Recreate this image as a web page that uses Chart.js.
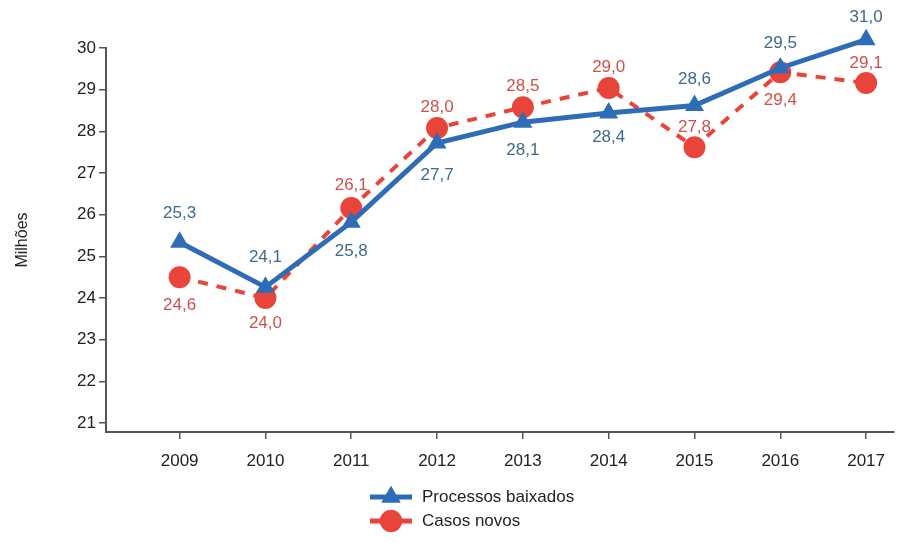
<!DOCTYPE html>
<html>
<head>
<meta charset="utf-8">
<script src="https://cdn.jsdelivr.net/npm/chart.js@4"></script>
<style>
  body{margin:0;background:#fff;}
  #wrap{width:905px;height:543px;position:relative;}
</style>
</head>
<body>
<div id="wrap"><canvas id="chart"></canvas></div>
<script>
// ======================= DATA =======================
const years=[2009,2010,2011,2012,2013,2014,2015,2016,2017];
// values as plotted in the picture (millions)
const baixados=[25.34,24.26,25.82,27.72,28.22,28.44,28.62,29.52,30.2];
const novos=[24.5,24.0,26.16,28.08,28.58,29.04,27.62,29.42,29.16];
// printed value labels
const baixadosLabels=['25,3','24,1','25,8','27,7','28,1','28,4','28,6','29,5','31,0'];
const novosLabels=['24,6','24,0','26,1','28,0','28,5','29,0','27,8','29,4','29,1'];
const yTicks=[21,22,23,24,25,26,27,28,29,30];

// label offsets (px, + is down)
const baixadosDy=[-29,-30,29,32,28,24,-26,-25,-22];
const novosDy=[28,25,-23,-21,-21,-21,-20,28,-20];

const BLUE='#2f6cb8', RED='#e9443a';
const BLUE_TXT='#3d6a8e', RED_TXT='#d0514b';
const FONT='"Liberation Sans", Arial, sans-serif';

// ======================= PLUGINS =======================
const valueLabels={
  id:'valueLabels',
  afterDatasetsDraw(chart){
    const ctx=chart.ctx;
    const sets=[[baixadosLabels,baixadosDy,BLUE_TXT],[novosLabels,novosDy,RED_TXT]];
    ctx.save();
    ctx.font='17px '+FONT;
    ctx.textAlign='center';
    ctx.textBaseline='middle';
    sets.forEach((s,di)=>{
      const meta=chart.getDatasetMeta(di);
      meta.data.forEach((p,i)=>{
        ctx.fillStyle=s[2];
        ctx.fillText(s[0][i],p.x,p.y+s[1][i]);
      });
    });
    ctx.restore();
  }
};

const bottomLegend={
  id:'bottomLegend',
  afterDraw(chart){
    const ctx=chart.ctx;
    const rows=[
      {ds:chart.data.datasets[0],y:497},
      {ds:chart.data.datasets[1],y:521}
    ];
    ctx.save();
    rows.forEach(r=>{
      ctx.strokeStyle=r.ds.borderColor;
      ctx.fillStyle=r.ds.borderColor;
      ctx.lineWidth=5;
      ctx.beginPath();ctx.moveTo(370,r.y);ctx.lineTo(412,r.y);ctx.stroke();
      Chart.helpers.drawPoint(ctx,{pointStyle:r.ds.pointStyle,radius:11,borderWidth:0},391,r.y);
      ctx.fill();
      ctx.fillStyle='#222';
      ctx.font='17px '+FONT;
      ctx.textAlign='left';
      ctx.textBaseline='middle';
      ctx.fillText(r.ds.label,422,r.y);
    });
    ctx.restore();
  }
};

// ======================= CHART =======================
const toXY=(arr)=>arr.map((v,i)=>({x:years[i],y:v}));

new Chart(document.getElementById('chart'),{
  type:'line',
  data:{
    datasets:[
      {label:'Processos baixados',data:toXY(baixados),borderColor:BLUE,backgroundColor:BLUE,
        borderWidth:5,pointStyle:'triangle',pointRadius:11,pointBorderWidth:0,clip:false,tension:0},
      {label:'Casos novos',data:toXY(novos),borderColor:RED,backgroundColor:RED,
        borderWidth:4,borderDash:[10,9],pointStyle:'circle',pointRadius:11,pointBorderWidth:0,clip:false,tension:0}
    ]
  },
  options:{
    responsive:true,
    maintainAspectRatio:false,
    animation:false,
    layout:{padding:{top:48,right:7,bottom:61,left:0}},
    plugins:{legend:{display:false},tooltip:{enabled:false}},
    scales:{
      x:{
        type:'linear',min:2008.142,max:2017.325,
        afterBuildTicks:s=>{s.ticks=years.map(v=>({value:v}));},
        afterFit:s=>{s.height=50;},
        ticks:{callback:v=>String(v),color:'#222',font:{size:17,family:FONT},padding:12,maxRotation:0,autoSkip:false},
        grid:{drawOnChartArea:false,drawTicks:true,tickLength:7,color:'#555',lineWidth:1.5},
        border:{display:true,color:'#555',width:2}
      },
      y:{
        min:20.784,max:30,
        afterBuildTicks:s=>{s.ticks=yTicks.map(v=>({value:v}));},
        afterFit:s=>{s.width=106;},
        ticks:{color:'#222',font:{size:17,family:FONT},padding:3},
        grid:{drawOnChartArea:false,drawTicks:true,tickLength:7,color:'#555',lineWidth:1.5},
        border:{display:true,color:'#555',width:2},
        title:{display:true,text:'Milhões',color:'#222',font:{size:16,family:FONT},padding:{top:13,bottom:0}}
      }
    }
  },
  plugins:[valueLabels,bottomLegend]
});
</script>
</body>
</html>
